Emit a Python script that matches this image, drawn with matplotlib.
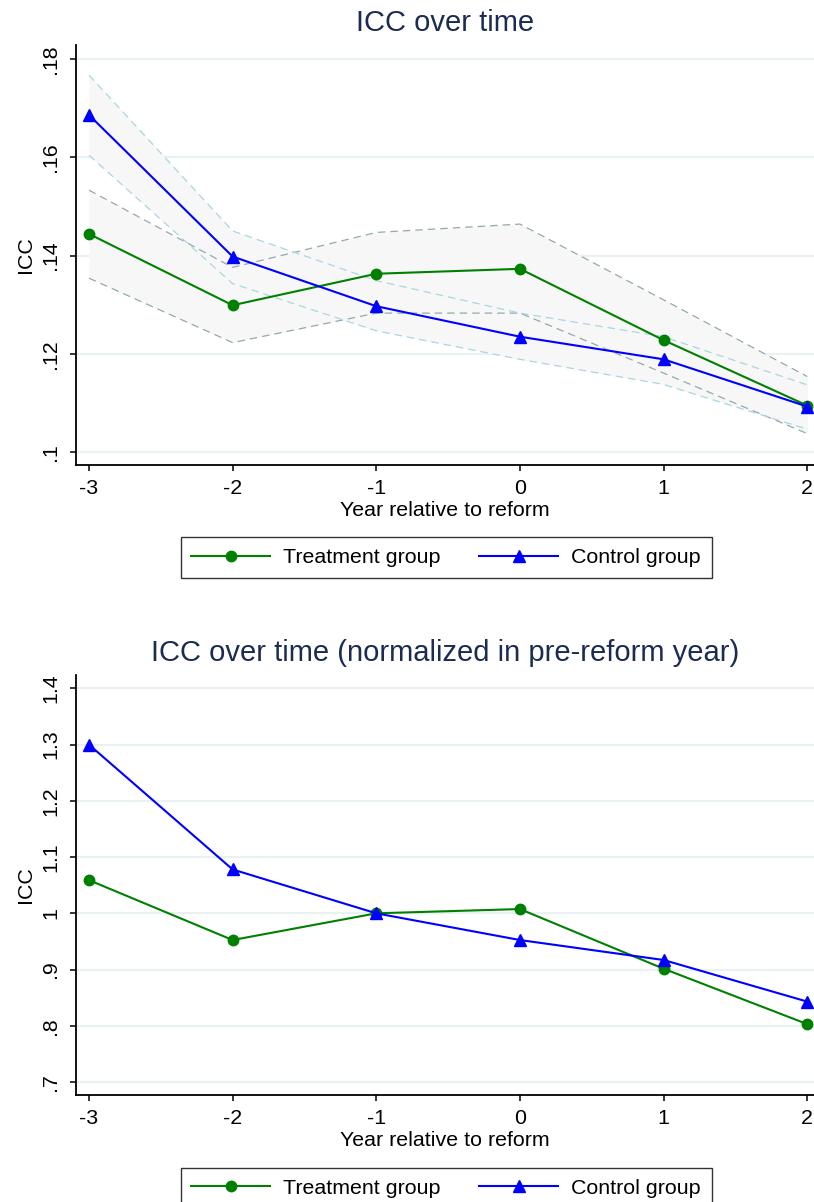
import matplotlib
matplotlib.use('Agg')
import matplotlib.pyplot as plt
from matplotlib.lines import Line2D

plt.rcParams['font.family'] = ['Liberation Sans', 'DejaVu Sans']

# data
YEARS = [-3, -2, -1, 0, 1, 2]

treat_icc = [0.1444, 0.1299, 0.1363, 0.1373, 0.1228, 0.1095]
treat_lo = [0.1354, 0.1223, 0.1283, 0.1283, 0.1161, 0.1038]
treat_hi = [0.1533, 0.1376, 0.1447, 0.1464, 0.1310, 0.1154]

ctrl_icc = [0.1686, 0.1398, 0.1297, 0.1235, 0.1189, 0.1093]
ctrl_lo = [0.1604, 0.1343, 0.1247, 0.1189, 0.1138, 0.1047]
ctrl_hi = [0.1767, 0.1450, 0.1349, 0.1283, 0.1235, 0.1137]

treat_norm = [1.059, 0.9525, 1.0, 1.0076, 0.9015, 0.803]
ctrl_norm = [1.300, 1.078, 1.0, 0.9525, 0.917, 0.843]

YTICKS_TOP = [0.10, 0.12, 0.14, 0.16, 0.18]
YLABELS_TOP = ['.1', '.12', '.14', '.16', '.18']
YTICKS_BOT = [0.7, 0.8, 0.9, 1.0, 1.1, 1.2, 1.3, 1.4]
YLABELS_BOT = ['.7', '.8', '.9', '1', '1.1', '1.2', '1.3', '1.4']

GREEN = '#008000'
BLUE = '#0000ff'
NAVY = '#1c2b52'
GRID = '#eaf1f3'
FILL = '#f7f7f7'
TREAT_CI = '#93aba6'
CTRL_CI = '#a9d6e3'
FS = 15.4


def style_axes(ax, yticks, ylabels, ylim, title):
    ax.set_xlim(-3.09, 2.047)
    ax.set_ylim(*ylim)
    ax.set_xticks(YEARS)
    ax.set_xticklabels([str(y) for y in YEARS], fontsize=FS)
    ax.set_yticks(yticks)
    ax.set_yticklabels(ylabels, fontsize=FS, rotation=90, va='center')
    for y in yticks:
        ax.axhline(y, color=GRID, lw=1.6, zorder=0)
    ax.spines['top'].set_visible(False)
    ax.spines['right'].set_visible(False)
    ax.spines['left'].set_linewidth(1.3)
    ax.spines['bottom'].set_linewidth(1.3)
    ax.tick_params(direction='out', length=4, width=1.1)
    ax.tick_params(axis='x', pad=6)
    ax.tick_params(axis='y', pad=7.5)
    ax.set_xlabel('Year relative to reform', fontsize=FS, labelpad=2)
    ax.set_ylabel('ICC', fontsize=FS, labelpad=4)
    ax.text(0.5, 1.052, title, transform=ax.transAxes, ha='center',
            va='center', fontsize=21, color=NAVY)


def add_legend(fig, y):
    handles = [
        Line2D([], [], color=GREEN, lw=1.5, marker='o', markersize=7.5),
        Line2D([], [], color=BLUE, lw=1.5, marker='^', markersize=8.5),
    ]
    leg = fig.legend(handles, ['Treatment group', 'Control group'],
                     loc='center', bbox_to_anchor=(0.548, y), ncol=2,
                     fontsize=FS, frameon=True, fancybox=False,
                     handlelength=3.7, handletextpad=0.6, columnspacing=1.8,
                     borderpad=0.5, borderaxespad=0)
    leg.get_frame().set_edgecolor('black')
    leg.get_frame().set_linewidth(1.0)


fig = plt.figure(figsize=(8.14, 12.02), dpi=100)

# top panel: ICC with confidence bands
ax1 = fig.add_axes([0.0934, 0.6131, 0.9066, 0.3494])
ax1.fill_between(YEARS, treat_lo, treat_hi, color=FILL, lw=0, zorder=1)
ax1.fill_between(YEARS, ctrl_lo, ctrl_hi, color=FILL, lw=0, zorder=1)
for lo, hi, c in [(treat_lo, treat_hi, TREAT_CI), (ctrl_lo, ctrl_hi, CTRL_CI)]:
    ax1.plot(YEARS, lo, color=c, lw=0.9, ls=(0, (6, 4)), zorder=2)
    ax1.plot(YEARS, hi, color=c, lw=0.9, ls=(0, (6, 4)), zorder=2)
ax1.plot(YEARS, treat_icc, color=GREEN, lw=1.5, marker='o', markersize=7.5, zorder=3)
ax1.plot(YEARS, ctrl_icc, color=BLUE, lw=1.5, marker='^', markersize=8.5, zorder=4)
style_axes(ax1, YTICKS_TOP, YLABELS_TOP, (0.0974, 0.1828), 'ICC over time')
add_legend(fig, 0.5362)

# bottom panel: normalized ICC
ax2 = fig.add_axes([0.0934, 0.0890, 0.9066, 0.3494])
ax2.plot(YEARS, treat_norm, color=GREEN, lw=1.5, marker='o', markersize=7.5, zorder=3)
ax2.plot(YEARS, ctrl_norm, color=BLUE, lw=1.5, marker='^', markersize=8.5, zorder=4)
style_axes(ax2, YTICKS_BOT, YLABELS_BOT, (0.6769, 1.4237),
           'ICC over time (normalized in pre-reform year)')
add_legend(fig, 0.0115)

fig.savefig('out.png', dpi=100)
